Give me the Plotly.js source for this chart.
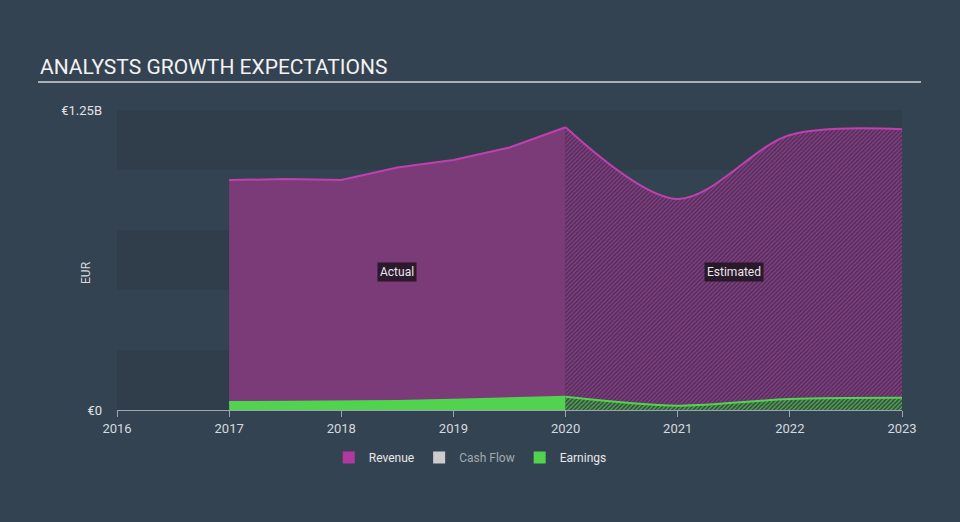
<!DOCTYPE html>
<html>
<head>
<meta charset="utf-8">
<script src="https://cdn.plot.ly/plotly-3.0.1.min.js"></script>
<style>
  html, body { margin: 0; padding: 0; background: #334251; }
  #chart { width: 960px; height: 522px; }
</style>
</head>
<body>
<div id="chart"></div>
<script>
// years as decimal x values, values in billions of EUR
const actualYears = [2017, 2017.5, 2018, 2018.5, 2019, 2019.5, 2020];
const revenueActual = [0.958, 0.962, 0.958, 1.01, 1.042, 1.094, 1.178];
const earningsActual = [0.033, 0.035, 0.035, 0.038, 0.043, 0.049, 0.055];

const estimateYears = [2020, 2021, 2022, 2023];
const revenueEstimate = [1.178, 0.879, 1.146, 1.17];
const earningsEstimate = [0.055, 0.018, 0.046, 0.051];

const xTicks = [2016, 2017, 2018, 2019, 2020, 2021, 2022, 2023];
const yTicks = [0, 1.25];
const yTickLabels = ['€0', '€1.25B'];

const revenueLine = '#c040ad';
const revenueFill = '#7b3a78';
const earningsColor = '#52d350';

const traces = [
    {
        x: actualYears, y: revenueActual, type: 'scatter', mode: 'lines',
        fill: 'tozeroy', fillcolor: revenueFill,
        line: { color: revenueLine, width: 2 },
        showlegend: false, hoverinfo: 'skip',
    },
    {
        x: estimateYears, y: revenueEstimate, type: 'scatter', mode: 'lines',
        fill: 'tozeroy', fillcolor: '#4d3456',
        fillpattern: { shape: '/', fgcolor: '#953a8f', bgcolor: '#4d3456', size: 3, solidity: 0.4 },
        line: { color: revenueLine, width: 2, shape: 'spline', smoothing: 0.9 },
        showlegend: false, hoverinfo: 'skip',
    },
    {
        x: actualYears, y: earningsActual, type: 'scatter', mode: 'lines',
        fill: 'tozeroy', fillcolor: earningsColor,
        line: { color: earningsColor, width: 2 },
        showlegend: false, hoverinfo: 'skip',
    },
    {
        x: estimateYears, y: earningsEstimate, type: 'scatter', mode: 'lines',
        fill: 'tozeroy', fillcolor: '#3a4a44',
        fillpattern: { shape: '/', fgcolor: '#4fb84f', bgcolor: '#3a4a44', size: 3, solidity: 0.4 },
        line: { color: earningsColor, width: 2, shape: 'spline', smoothing: 0.9 },
        showlegend: false, hoverinfo: 'skip',
    },
    // legend swatches
    { x: [null], y: [null], type: 'bar', name: 'Revenue', marker: { color: '#b0399f' } },
    { x: [null], y: [null], type: 'bar', name: '<span style="color:#a3a9af">Cash Flow</span>', marker: { color: '#cccccc' } },
    { x: [null], y: [null], type: 'bar', name: 'Earnings', marker: { color: earningsColor } },
];

// alternating horizontal bands behind the plot
const bands = [[0, 0.25], [0.5, 0.75], [1.0, 1.25]].map(([y0, y1]) => ({
    type: 'rect', xref: 'paper', yref: 'y', x0: 0, x1: 1, y0: y0, y1: y1,
    fillcolor: '#303e4c', line: { width: 0 }, layer: 'below',
}));

const layout = {
    width: 960,
    height: 522,
    paper_bgcolor: '#344352',
    plot_bgcolor: 'rgba(0,0,0,0)',
    margin: { l: 117, r: 58, t: 110, b: 112 },
    font: { family: 'Roboto, sans-serif', color: '#d6dadf', size: 12 },
    showlegend: true,
    legend: {
        orientation: 'h', x: 0.45, xanchor: 'center', y: -0.11, yanchor: 'top',
        font: { size: 12, color: '#e8e8e8' }, itemclick: false, itemdoubleclick: false,
    },
    xaxis: {
        range: [2016, 2023],
        tickvals: xTicks,
        ticktext: xTicks.map(String),
        showgrid: false, zeroline: false,
        showline: true, linecolor: '#9aa6b2', linewidth: 1,
        ticks: 'outside', ticklen: 6, tickcolor: '#9aa6b2',
        tickfont: { size: 13, color: '#d6dadf' },
        fixedrange: true,
    },
    yaxis: {
        range: [0, 1.25],
        tickvals: yTicks,
        ticktext: yTickLabels,
        showgrid: false, zeroline: false, showline: false,
        ticks: '', ticklabelstandoff: 14,
        tickfont: { size: 13, color: '#e0e3e6' },
        fixedrange: true,
    },
    shapes: bands.concat([
        {
            type: 'line', xref: 'paper', yref: 'paper',
            x0: -0.1006, x1: 1.0242, y0: 1.0933, y1: 1.0933,
            line: { color: '#a9b0b8', width: 2 },
        },
    ]),
    annotations: [
        {
            text: 'ANALYSTS GROWTH EXPECTATIONS', xref: 'paper', yref: 'paper',
            x: -0.1006, y: 1.096, xanchor: 'left', yanchor: 'bottom', showarrow: false,
            font: { size: 21, color: '#f2f2f2' },
        },
        {
            text: 'EUR', xref: 'paper', yref: 'paper', x: -0.051, y: 0.46,
            textangle: -90, showarrow: false,
            font: { size: 12, color: '#d6dadf' },
        },
        {
            text: 'Actual', x: 2018.5, y: 0.575, showarrow: false,
            bgcolor: 'rgba(30,20,32,0.85)', borderpad: 2,
            font: { size: 12, color: '#e8e8e8' },
        },
        {
            text: 'Estimated', x: 2021.5, y: 0.575, showarrow: false,
            bgcolor: 'rgba(30,20,32,0.85)', borderpad: 2,
            font: { size: 12, color: '#e8e8e8' },
        },
    ],
};

Plotly.newPlot('chart', traces, layout, { displayModeBar: false, staticPlot: true }).catch((error) => {
    console.error('Error plotting the graph:', error);
});
</script>
</body>
</html>
